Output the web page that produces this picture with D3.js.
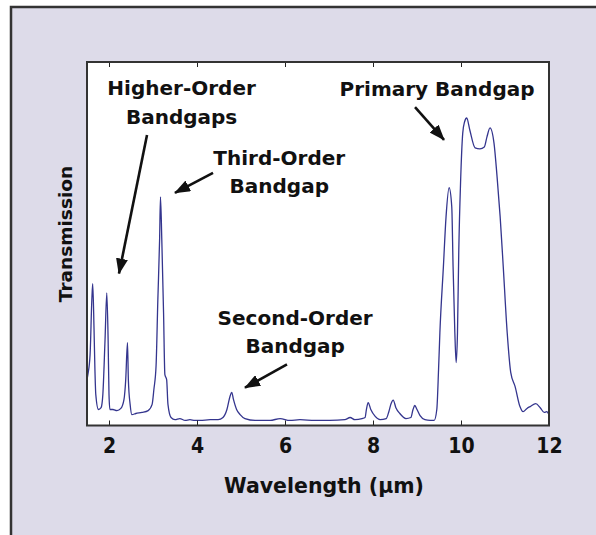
<!DOCTYPE html>
<html>
<head>
<meta charset="utf-8">
<script src="https://cdn.jsdelivr.net/npm/d3@7"></script>
<style>
  body { margin: 0; background: #fff; }
  text { font-family: "DejaVu Sans", sans-serif; font-weight: bold; fill: #111; }
</style>
</head>
<body>
<div id="chart"></div>
<script>
// transmission spectrum
const wavelength = [
  1.50,1.52,1.57,1.61,1.63,1.66,1.68,1.70,1.76,1.82,
  1.86,1.91,1.95,1.98,2.00,2.02,2.09,2.18,2.27,2.34,
  2.38,2.42,2.44,2.48,2.52,2.61,2.75,2.89,2.98,3.02,
  3.07,3.11,3.15,3.17,3.20,3.24,3.27,3.31,3.34,3.41,
  3.50,3.61,3.73,3.84,3.95,4.07,4.30,4.48,4.59,4.68,
  4.75,4.79,4.83,4.90,4.98,5.09,5.32,5.66,5.89,6.11,
  6.34,6.68,7.02,7.36,7.48,7.59,7.75,7.82,7.85,7.89,
  7.95,8.05,8.16,8.30,8.36,8.41,8.46,8.52,8.61,8.75,
  8.86,8.91,8.95,9.00,9.07,9.18,9.30,9.39,9.45,9.49,
  9.52,9.60,9.66,9.73,9.79,9.82,9.86,9.89,9.92,9.95,
  9.99,10.04,10.08,10.13,10.20,10.32,10.43,10.53,10.59,10.66,
  10.75,10.82,10.89,10.96,11.05,11.13,11.23,11.34,11.41,11.50,
  11.57,11.70,11.80,11.89,11.95,12.00
]
const transmission = [
  .126,.140,.195,.346,.390,.264,.154,.085,.044,.049,
  .085,.236,.365,.236,.085,.044,.044,.041,.047,.071,
  .126,.228,.126,.058,.030,.033,.036,.041,.058,.099,
  .165,.346,.511,.629,.511,.310,.140,.126,.058,.022,
  .016,.019,.014,.016,.014,.014,.016,.016,.022,.044,
  .080,.091,.071,.044,.030,.019,.014,.014,.019,.014,
  .016,.014,.014,.016,.022,.016,.019,.022,.044,.063,
  .044,.025,.016,.019,.038,.060,.070,.049,.033,.019,
  .022,.044,.055,.044,.027,.016,.014,.014,.044,.154,
  .255,.437,.574,.654,.602,.437,.255,.173,.255,.484,
  .668,.805,.835,.846,.813,.764,.761,.766,.794,.819,
  .777,.684,.574,.437,.255,.146,.107,.052,.038,.047,
  .052,.060,.049,.036,.038,.030
]
const xTicks = [2, 4, 6, 8, 10, 12]

// annotations, in data units: label lines, label anchor, arrow tail -> tip
const labelLines = [
  ['Higher-Order', 'Bandgaps'],
  ['Third-Order', 'Bandgap'],
  ['Primary Bandgap'],
  ['Second-Order', 'Bandgap']
]
const labelAt = [[3.65, 0.909], [5.87, 0.717], [9.455, 0.907], [6.23, 0.277]]
const arrowFrom = [[2.864, 0.799], [4.364, 0.695], [8.955, 0.876], [6.045, 0.168]]
const arrowTo = [[2.227, 0.418], [3.50, 0.640], [9.614, 0.786], [5.091, 0.104]]

const width = 596
const height = 535
const margin = { top: 62, right: 47, bottom: 109, left: 87 }

const svg = d3.select('#chart')
  .append('svg')
  .attr('width', width)
  .attr('height', height)

// lavender panel, only top and left edges show
svg.append('rect')
  .attr('x', 11).attr('y', 7)
  .attr('width', 700).attr('height', 700)
  .attr('fill', '#dddbe9')
  .attr('stroke', '#333')
  .attr('stroke-width', 2.5)

const x = d3.scaleLinear()
  .domain([1.5, 12])
  .range([margin.left, width - margin.right])

const y = d3.scaleLinear()
  .domain([0, 1])
  .range([height - margin.bottom - 0.5, margin.top])

svg.append('rect')
  .attr('x', x.range()[0]).attr('y', y.range()[1])
  .attr('width', x.range()[1] - x.range()[0])
  .attr('height', y.range()[0] - y.range()[1])
  .attr('fill', '#fff')

const line = d3.line()
  .x((d, i) => x(wavelength[i]))
  .y(d => y(d))
  .curve(d3.curveMonotoneX)

svg.append('path')
  .datum(transmission)
  .attr('fill', 'none')
  .attr('stroke', '#34358e')
  .attr('stroke-width', 1.3)
  .attr('stroke-linejoin', 'round')
  .attr('d', line)

// bottom and top axes, ticks pointing inward
const xAxis = svg.append('g')
  .attr('transform', `translate(0,${y.range()[0]})`)
  .call(d3.axisBottom(x).tickValues(xTicks).tickSize(-5).tickPadding(13))
xAxis.select('.domain').remove()
xAxis.selectAll('line').attr('stroke', '#222')
xAxis.selectAll('text')
  .style('font-family', '"DejaVu Sans Condensed", "DejaVu Sans", sans-serif')
  .style('font-weight', 'bold')
  .attr('font-size', 21)
  .attr('fill', '#111')

const topAxis = svg.append('g')
  .attr('transform', `translate(0,${y.range()[1]})`)
  .call(d3.axisTop(x).tickValues(xTicks).tickSize(-5).tickFormat(''))
topAxis.select('.domain').remove()
topAxis.selectAll('line').attr('stroke', '#222')

svg.append('rect')
  .attr('x', x.range()[0]).attr('y', y.range()[1])
  .attr('width', x.range()[1] - x.range()[0])
  .attr('height', y.range()[0] - y.range()[1])
  .attr('fill', 'none')
  .attr('stroke', '#333')
  .attr('stroke-width', 2)

// axis titles
svg.append('text')
  .attr('x', 324).attr('y', 493)
  .attr('text-anchor', 'middle')
  .attr('font-size', 20.5)
  .text('Wavelength (µm)')

svg.append('text')
  .attr('transform', 'translate(72,234) rotate(-90)')
  .attr('text-anchor', 'middle')
  .attr('font-size', 18.5)
  .text('Transmission')

// arrows
svg.append('defs').append('marker')
  .attr('id', 'head')
  .attr('viewBox', '0 0 16 12')
  .attr('refX', 15).attr('refY', 6)
  .attr('markerWidth', 16).attr('markerHeight', 12)
  .attr('markerUnits', 'userSpaceOnUse')
  .attr('orient', 'auto')
  .append('path')
  .attr('d', 'M0,0L16,6L0,12Z')
  .attr('fill', '#111')

svg.selectAll('.arrow')
  .data(arrowFrom)
  .enter()
  .append('line')
  .attr('class', 'arrow')
  .attr('x1', d => x(d[0]))
  .attr('y1', d => y(d[1]))
  .attr('x2', (d, i) => x(arrowTo[i][0]))
  .attr('y2', (d, i) => y(arrowTo[i][1]))
  .attr('stroke', '#111')
  .attr('stroke-width', 2.6)
  .attr('marker-end', 'url(#head)')

// labels
const labels = svg.selectAll('.label')
  .data(labelLines)
  .enter()
  .append('text')
  .attr('class', 'label')
  .attr('text-anchor', 'middle')
  .attr('font-size', 20)
  .attr('transform', (d, i) => `translate(${x(labelAt[i][0])},${y(labelAt[i][1])})`)

labels.selectAll('tspan')
  .data(d => d)
  .enter()
  .append('tspan')
  .attr('x', 0)
  .attr('y', (d, i) => i * 28.5)
  .text(d => d)
</script>
</body>
</html>
